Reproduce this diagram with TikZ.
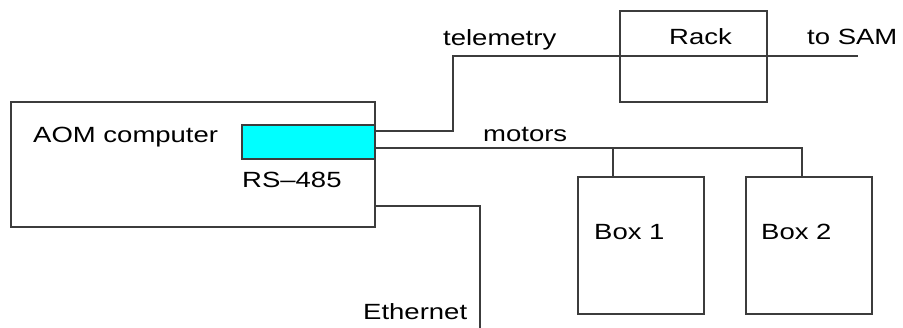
\documentclass[tikz,border=0pt]{standalone}
\usepackage{fontspec}
\setmainfont{Liberation Sans}[FakeStretch=1.25]
\usepackage{tikz}
\usetikzlibrary{positioning}
\definecolor{linegrey}{RGB}{60,60,60}
\definecolor{port}{RGB}{0,255,255}

\begin{document}
\begin{tikzpicture}[x=1pt, y=-1pt,
		box/.style={draw=linegrey, line width=1.2pt, inner sep=0pt, outer sep=0pt},
		lbl/.style={anchor=base west, inner sep=0pt, font=\fontsize{22}{26}\selectfont},
		wire/.style={draw=linegrey, line width=1.2pt}]
	\useasboundingbox (0,0) rectangle (903,328);
	% boxes
	\node[box, minimum width=364, minimum height=125] (aom) at (193,164.5) {};
	\node[box, fill=port, minimum width=133, minimum height=34] (rs) at (308.5,142) {};
	\node[box, minimum width=147, minimum height=91] (rack) at (693.5,56.5) {};
	\node[box, minimum width=126, minimum height=137] (box1) at (641,245.5) {};
	\node[box, minimum width=126, minimum height=137] (box2) at (809,245.5) {};
	% labels
	\node[lbl] (aomlbl) at (33,143) {AOM computer};
	\node[lbl] (rslbl) at (242,188) {RS--485};
	\node[lbl] (racklbl) at (669,45) {Rack};
	\node[lbl] (telelbl) at (443,46) {telemetry};
	\node[lbl] (samlbl) at (807,45) {to SAM};
	\node[lbl] (motlbl) at (483,142) {motors};
	\node[lbl] (box1lbl) at (594,240) {Box 1};
	\node[lbl] (box2lbl) at (761,240) {Box 2};
	\node[lbl] (ethlbl) at (363,320) {Ethernet};
	% wires
	\coordinate (telebend) at (453,56);
	\coordinate (samend) at (858,56);
	\coordinate (mottap) at (613,148);
	\coordinate (motend) at (802,148);
	\coordinate (ethbend) at (480,206);
	\coordinate (ethend) at (480,328);
	\draw[wire] ([yshift=-6pt]rs.north east) -| (telebend) -- (samend);
	\draw[wire] ([yshift=-23pt]rs.north east) -- (motend) -- (motend |- box2.north);
	\draw[wire] (mottap) -- (mottap |- box1.north);
	\draw[wire] ([yshift=21pt]aom.south east) -- (ethbend) -- (ethend);
\end{tikzpicture}
\end{document}
